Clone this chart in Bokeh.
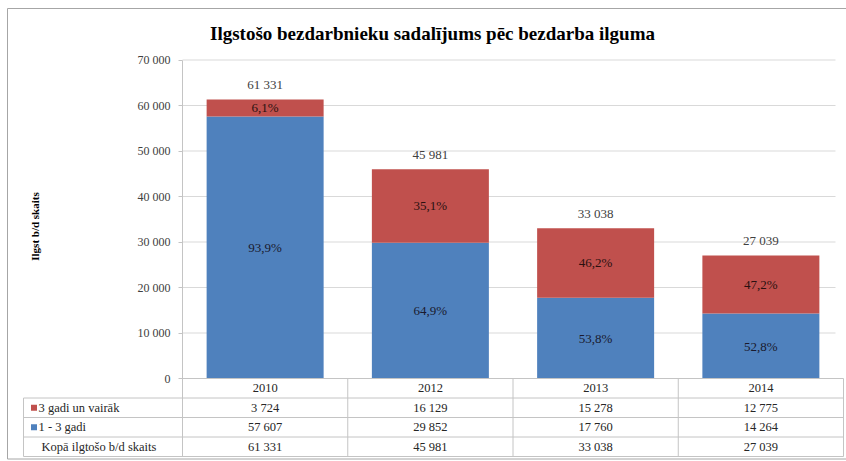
import math
from bokeh.plotting import figure
from bokeh.models import Range1d, FixedTicker, ColumnDataSource
from bokeh.core.properties import value
from bokeh.embed import file_html
from bokeh.resources import INLINE

# ---------------- data ----------------
title_text = "Ilgstošo bezdarbnieku sadalījums pēc bezdarba ilguma"
y_title = "Ilgst b/d skaits"
years = ["2010", "2012", "2013", "2014"]
over3 = [3724, 16129, 15278, 12775]        # 3 gadi un vairāk
one_to3 = [57607, 29852, 17760, 14264]     # 1 - 3 gadi
totals = [61331, 45981, 33038, 27039]      # Kopā
series_names = ["3 gadi un vairāk", "1 - 3 gadi"]
total_name = "Kopā ilgtošo b/d skaits"
y_ticks = [0, 10000, 20000, 30000, 40000, 50000, 60000, 70000]
y_tick_labels = ["0", "10 000", "20 000", "30 000", "40 000", "50 000", "60 000", "70 000"]

# ---------------- style / layout (pixels) ----------------
FONT = "Liberation Serif"
BLUE = "#4F81BD"
RED = "#C0504D"
TXT = "#262626"
GRID = "#d9d9d9"
TLINE = "#c4c4c4"
W, H = 846, 461
AX_X = 182          # px of the value axis / left of first column
COL_W = 165.25      # px width of one category column
Y_TOP_PX = 59.5     # px of the 70 000 line
ZERO_PX = 378       # px of the 0 line
ROW_PX = 19.5       # px height of a table row
N = len(years)

ppu = (ZERO_PX - Y_TOP_PX) / y_ticks[-1]


def X(px):
    return (px - AX_X) / COL_W


def Y(px):
    return (ZERO_PX - px) / ppu


row_h = ROW_PX / ppu
table_bottom = -4 * row_h


def fmt_int(v):
    return f"{v:,}".replace(",", " ")


def fmt_pct(p):
    return f"{p:.1f}%".replace(".", ",")


xs = [i + 0.5 for i in range(N)]
src = ColumnDataSource(dict(
    x=xs,
    year=years,
    low=one_to3,
    high=over3,
    low_mid=[l / 2 for l in one_to3],
    high_mid=[l + h / 2 for l, h in zip(one_to3, over3)],
    total_y=[t + 15 / ppu for t in totals],
    pct_low=[fmt_pct(l / (l + h) * 100) for l, h in zip(one_to3, over3)],
    pct_high=[fmt_pct(h / (l + h) * 100) for l, h in zip(one_to3, over3)],
    total_txt=[fmt_int(t) for t in totals],
    high_txt=[fmt_int(v) for v in over3],
    low_txt=[fmt_int(v) for v in one_to3],
    row0=[-0.5 * row_h] * N,
    row1=[-1.5 * row_h] * N,
    row2=[-2.5 * row_h] * N,
    row3=[-3.5 * row_h] * N,
))

p = figure(width=W, height=H, x_range=Range1d(X(0), X(W)), y_range=Range1d(Y(H), Y(0)),
           output_backend="svg", toolbar_location=None, x_axis_location=None,
           min_border_left=0, min_border_right=0, min_border_top=0, min_border_bottom=0)
p.background_fill_color = "white"
p.border_fill_color = "white"
p.outline_line_color = None
p.xgrid.visible = False
p.ygrid.visible = False

# outer chart border
p.quad(left=[X(7)], right=[X(W + 20)], top=[Y(8)], bottom=[Y(458.5)],
       fill_color=None, line_color="#a6a6a6", line_width=1)

# horizontal grid lines of the plot area
p.segment(x0=[0] * len(y_ticks), x1=[X(835)] * len(y_ticks), y0=y_ticks, y1=y_ticks,
          line_color=GRID, line_width=1)

# value axis at the left edge of the plot area
ax = p.yaxis[0]
ax.fixed_location = 0
ax.bounds = (table_bottom, y_ticks[-1])
ax.ticker = FixedTicker(ticks=y_ticks)
ax.major_label_overrides = {t: l for t, l in zip(y_ticks, y_tick_labels)}
ax.minor_tick_line_color = None
ax.axis_line_color = TLINE
ax.major_tick_line_color = TLINE
ax.major_tick_out = 4
ax.major_tick_in = 0
ax.major_label_text_font = FONT
ax.major_label_text_font_size = "12px"
ax.major_label_text_color = "#404040"
ax.major_label_standoff = 8

# title
p.text(x=[X(432)], y=[Y(33)], text=[title_text], text_align="center", text_baseline="middle",
       text_font=value(FONT), text_font_size="19px", text_font_style="bold", text_color="#000000")

# y axis title
p.text(x=[X(34)], y=[Y(226)], text=[y_title], angle=math.pi / 2, text_align="center",
       text_baseline="middle", text_font=value(FONT), text_font_size="11px",
       text_font_style="bold", text_color="#000000")

# bars
p.vbar_stack(["low", "high"], x="x", width=117 / COL_W, color=[BLUE, RED], line_color=None, source=src)

lab_kw = dict(text_align="center", text_baseline="middle", text_font=value(FONT),
              text_font_size="13px", source=src)
p.text(x="x", y="low_mid", text="pct_low", text_color="#1a1a2e", **lab_kw)
p.text(x="x", y="high_mid", text="pct_high", text_color="#2a1010", **lab_kw)
p.text(x="x", y="total_y", text="total_txt", text_color="#404040", **lab_kw)

# data table
txt_kw = dict(text_align="center", text_baseline="middle", text_font=value(FONT),
              text_font_size="12.5px", source=src)
p.text(x="x", y="row0", text="year", text_color=TXT, **txt_kw)
p.text(x="x", y="row1", text="high_txt", text_color=TXT, **txt_kw)
p.text(x="x", y="row2", text="low_txt", text_color=TXT, **txt_kw)
p.text(x="x", y="row3", text="total_txt", text_color=TXT, **txt_kw)

leg_left = X(23)
hy = [-row_h, -2 * row_h, -3 * row_h, table_bottom]
p.segment(x0=[leg_left] * len(hy), x1=[X(843)] * len(hy), y0=hy, y1=hy, line_color=TLINE, line_width=1)
p.segment(x0=[0], x1=[X(843)], y0=[0], y1=[0], line_color=TLINE, line_width=1)
vx = [float(i) for i in range(1, N)] + [X(843)]
p.segment(x0=vx, x1=vx, y0=[0] * len(vx), y1=[table_bottom] * len(vx), line_color=TLINE, line_width=1)
p.segment(x0=[leg_left], x1=[leg_left], y0=[-row_h], y1=[table_bottom], line_color=TLINE, line_width=1)

# legend column of the table
leg_y = [-1.5 * row_h, -2.5 * row_h]
p.scatter(x=[X(33.5)] * 2, y=leg_y, marker="square", size=6, fill_color=[RED, BLUE], line_color=None)
p.text(x=[X(38)] * 2, y=leg_y, text=series_names, text_align="left", text_baseline="middle",
       text_font=value(FONT), text_font_size="12.5px", text_color=TXT)
p.text(x=[X(41)], y=[-3.5 * row_h], text=[total_name], text_align="left", text_baseline="middle",
       text_font=value(FONT), text_font_size="12.5px", text_color=TXT)

open("out.html", "w").write(file_html(p, INLINE))
